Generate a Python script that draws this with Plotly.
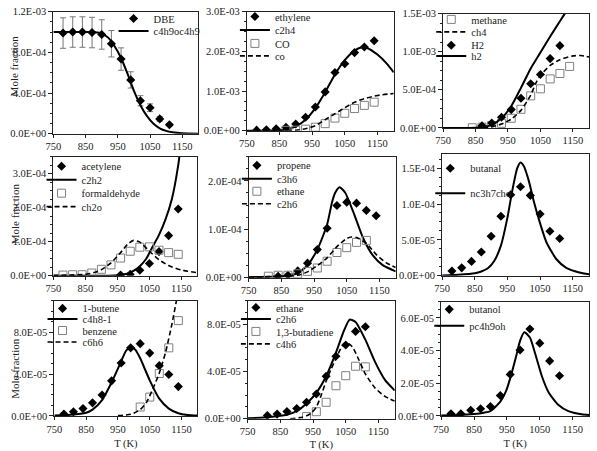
import plotly.graph_objects as go

W, H = 597, 451
FONT = "Liberation Serif"

# ---------------- data ----------------
T_EXP = [780, 810, 840, 870, 900, 930, 960, 990, 1020, 1050, 1080, 1110, 1140]
X_TICKS = [750, 850, 950, 1050, 1150]
X_RANGE = [750, 1200]

# Panel 1: DBE
dbe_T = [780, 810, 840, 870, 900, 930, 960, 990, 1020, 1050, 1080, 1110]
dbe = [9.9e-4, 1.0e-3, 1.0e-3, 9.95e-4, 9.76e-4, 8.85e-4, 7.34e-4, 5.29e-4, 3.24e-4, 2.55e-4, 1.45e-4, 8.8e-5]
dbe_err = [1.5e-4, 1.5e-4, 1.5e-4, 1.5e-4, 1.45e-4, 1.3e-4, 1.1e-4, 8e-5, 5e-5, 3.8e-5, 2.2e-5, 1.3e-5]
c4h9oc4h9_T = [750, 800, 850, 880, 900, 920, 940, 960, 980, 1000, 1020, 1040, 1060, 1080, 1100, 1120, 1150, 1200]
c4h9oc4h9 = [1.0e-3, 1.0e-3, 1.0e-3, 9.97e-4, 9.85e-4, 9.45e-4, 8.6e-4, 7.45e-4, 5.9e-4, 4.2e-4, 2.8e-4, 1.75e-4,
             1.0e-4, 5.3e-5, 2.7e-5, 1.4e-5, 4e-6, 0.0]

# Panel 2: ethylene, CO
ethylene_T = T_EXP
ethylene = [1.6e-5, 2.4e-5, 5e-5, 9e-5, 1.7e-4, 3.4e-4, 6.0e-4, 9.8e-4, 1.47e-3, 1.69e-3, 1.97e-3, 2.11e-3, 2.27e-3]
co_T = [870, 900, 930, 960, 990, 1020, 1050, 1080, 1110, 1140]
co = [1e-5, 1.5e-5, 4e-5, 9e-5, 1.8e-4, 3.2e-4, 4.4e-4, 5.6e-4, 6.4e-4, 7.2e-4]
c2h4_T = [750, 800, 850, 880, 900, 930, 960, 990, 1020, 1050, 1080, 1100, 1120, 1150, 1180, 1200]
c2h4 = [0, 2e-6, 1.2e-5, 5e-5, 1.1e-4, 2.8e-4, 5.7e-4, 9.7e-4, 1.42e-3, 1.78e-3, 2.02e-3, 2.1e-3, 2.08e-3,
        1.92e-3, 1.68e-3, 1.47e-3]
co_m_T = [750, 850, 900, 930, 960, 990, 1020, 1050, 1080, 1110, 1150, 1200]
co_m = [0, 1e-6, 1.5e-5, 5e-5, 1.3e-4, 2.8e-4, 4.3e-4, 5.8e-4, 7.2e-4, 8.1e-4, 8.9e-4, 9.4e-4]

# Panel 3: methane, H2
methane_T = [840, 870, 900, 930, 960, 990, 1020, 1050, 1080, 1110, 1140]
methane = [2e-6, 1e-5, 3e-5, 6e-5, 1.26e-4, 2.44e-4, 4.2e-4, 5.13e-4, 6.43e-4, 7.14e-4, 8.07e-4]
h2_T = [870, 900, 930, 960, 990, 1020, 1050, 1080, 1110]
h2 = [2.9e-5, 6.3e-5, 1.39e-4, 2.4e-4, 3.9e-4, 5.8e-4, 7.0e-4, 9.1e-4, 1.08e-3]
ch4_m_T = [750, 870, 900, 930, 960, 990, 1020, 1035, 1050, 1080, 1110, 1150, 1175, 1200]
ch4_m = [0, 2e-6, 1.5e-5, 5e-5, 1.15e-4, 2.3e-4, 4.3e-4, 5.8e-4, 6.9e-4, 8.2e-4, 8.95e-4, 9.45e-4, 9.5e-4, 9.3e-4]
h2_m_T = [750, 850, 880, 900, 930, 960, 990, 1020, 1050, 1080, 1110, 1140, 1170, 1200]
h2_m = [0, 2e-6, 1.5e-5, 4e-5, 1.26e-4, 2.85e-4, 5.25e-4, 7.8e-4, 9.9e-4, 1.2e-3, 1.4e-3, 1.6e-3, 1.8e-3, 2.0e-3]

# Panel 4: acetylene, formaldehyde
acetylene_T = [960, 990, 1020, 1050, 1080, 1110, 1140]
acetylene = [2e-6, 4e-6, 1.6e-5, 3.6e-5, 7.1e-5, 1.18e-4, 1.96e-4]
formaldehyde_T = T_EXP
formaldehyde = [2e-6, 3e-6, 3e-6, 8e-6, 1.9e-5, 3.2e-5, 5.2e-5, 7.2e-5, 8.4e-5, 8.5e-5, 7.5e-5, 6.8e-5, 6.3e-5]
c2h2_T = [750, 900, 940, 960, 980, 1000, 1020, 1040, 1060, 1080, 1100, 1120, 1140, 1160, 1200]
c2h2 = [0, 0, 1e-6, 2.5e-6, 6e-6, 1.4e-5, 2.8e-5, 5e-5, 8.5e-5, 1.2e-4, 1.65e-4, 2.25e-4, 3.25e-4, 4.8e-4, 8e-4]
ch2o_T = [750, 800, 850, 880, 900, 930, 960, 980, 1000, 1020, 1050, 1080, 1110, 1150, 1200]
ch2o = [1e-6, 2e-6, 4e-6, 1e-5, 1.8e-5, 3.8e-5, 6.8e-5, 9.1e-5, 1.04e-4, 9.9e-5, 7.2e-5, 4.7e-5, 3.0e-5, 1.7e-5, 9e-6]

# Panel 5: propene, ethane
propene_T = [840, 870, 900, 930, 960, 990, 1020, 1050, 1080, 1110, 1140]
propene = [3e-6, 5e-6, 1.4e-5, 3e-5, 5.8e-5, 1.02e-4, 1.49e-4, 1.56e-4, 1.54e-4, 1.39e-4, 1.28e-4]
ethane5_T = [810, 840, 870, 900, 930, 960, 990, 1020, 1050, 1080, 1110]
ethane5 = [3e-6, 5e-6, 5e-6, 8e-6, 1.3e-5, 2e-5, 3.4e-5, 5.2e-5, 6.2e-5, 7.3e-5, 7.7e-5]
c3h6_T = [750, 850, 880, 900, 930, 960, 990, 1005, 1015, 1028, 1045, 1070, 1100, 1130, 1160, 1200]
c3h6 = [1e-6, 3e-6, 6e-6, 9e-6, 2.6e-5, 5.8e-5, 1.1e-4, 1.56e-4, 1.76e-4, 1.87e-4, 1.76e-4, 1.36e-4, 8.2e-5,
        4.6e-5, 2.6e-5, 1.3e-5]
c2h6_5_T = [750, 850, 900, 930, 960, 990, 1020, 1050, 1064, 1080, 1110, 1140, 1170, 1200]
c2h6_5 = [1e-6, 3e-6, 5e-6, 1.2e-5, 2.5e-5, 4.1e-5, 6.4e-5, 8.1e-5, 8.4e-5, 8.3e-5, 7.1e-5, 4.8e-5, 3.1e-5, 2.1e-5]

# Panel 6: butanal
butanal_T = [780, 810, 840, 870, 900, 930, 960, 990, 1020, 1050, 1080, 1110]
butanal = [6.7e-6, 1.1e-5, 2e-5, 3.3e-5, 5.5e-5, 8.3e-5, 1.13e-4, 1.24e-4, 1.12e-4, 8.6e-5, 6.2e-5, 5.2e-5]
nc3h7cho_T = [750, 800, 850, 870, 890, 910, 930, 950, 965, 980, 990, 1000, 1015, 1030, 1050, 1070, 1100, 1130,
              1170, 1200]
nc3h7cho = [5e-7, 1.5e-6, 3.5e-6, 6e-6, 1.05e-5, 2.1e-5, 4.2e-5, 8.1e-5, 1.19e-4, 1.5e-4, 1.58e-4, 1.53e-4,
            1.33e-4, 1.05e-4, 7.3e-5, 4.6e-5, 2.3e-5, 1.1e-5, 4.5e-6, 2e-6]

# Panel 7: 1-butene, benzene
butene_T = T_EXP
butene = [1.8e-6, 4e-6, 7e-6, 1.25e-5, 2e-5, 3.35e-5, 5.05e-5, 6.5e-5, 6.9e-5, 6.0e-5, 4.8e-5, 3.95e-5, 2.8e-5]
benzene_T = [1020, 1050, 1080, 1110, 1140]
benzene = [8.5e-6, 1.8e-5, 4.05e-5, 6.5e-5, 9.1e-5]
c4h8_T = [750, 800, 850, 870, 900, 930, 960, 975, 990, 1005, 1020, 1050, 1080, 1110, 1140, 1170, 1200]
c4h8 = [3e-7, 1e-6, 3e-6, 6e-6, 1.5e-5, 3.2e-5, 5.2e-5, 6.2e-5, 6.6e-5, 6.3e-5, 5.5e-5, 3.4e-5, 1.65e-5,
        7e-6, 2.5e-6, 8e-7, 3e-7]
c6h6_T = [950, 990, 1020, 1040, 1060, 1080, 1100, 1120, 1140, 1160]
c6h6 = [3e-7, 1.5e-6, 6e-6, 1.3e-5, 2.6e-5, 4.1e-5, 6.1e-5, 8.8e-5, 1.2e-4, 1.55e-4]

# Panel 8: ethane, 1,3-butadiene
ethane8_T = [810, 840, 870, 900, 930, 960, 990, 1020, 1050, 1080, 1110]
ethane8 = [2.7e-6, 4e-6, 6.2e-6, 8.7e-6, 1.4e-5, 2.1e-5, 3.6e-5, 5.3e-5, 6.25e-5, 7.4e-5, 7.8e-5]
butadiene_T = [930, 960, 990, 1020, 1050, 1080, 1110]
butadiene = [1.9e-6, 6e-6, 1.4e-5, 2.8e-5, 3.65e-5, 4.45e-5, 4.4e-5]
c2h6_8_T = [750, 800, 850, 870, 900, 930, 960, 990, 1020, 1045, 1062, 1080, 1110, 1140, 1170, 1200]
c2h6_8 = [5e-7, 1e-6, 2.5e-6, 3.5e-6, 6.5e-6, 1.3e-5, 2.2e-5, 3.6e-5, 5.6e-5, 7.5e-5, 8.4e-5, 8.2e-5, 6.7e-5,
          4.8e-5, 3.3e-5, 2.4e-5]
c4h6_T = [880, 910, 930, 945, 960, 975, 990, 1005, 1020, 1040, 1054, 1070, 1090, 1110, 1140, 1170, 1200]
c4h6 = [0, 1e-6, 2.5e-6, 5e-6, 1e-5, 2e-5, 3.2e-5, 4.2e-5, 5.1e-5, 6.2e-5, 6.45e-5, 6.1e-5, 5.0e-5, 3.8e-5,
        2.6e-5, 1.9e-5, 1.5e-5]

# Panel 9: butanol
butanol_T = [780, 810, 840, 870, 900, 930, 960, 990, 1020, 1050, 1080, 1110]
butanol = [1.3e-6, 1.3e-6, 3.5e-6, 4.4e-6, 5.8e-6, 1.25e-5, 2.54e-5, 4.04e-5, 5.33e-5, 4.46e-5, 3.37e-5, 2.46e-5]
pc4h9oh_T = [750, 800, 850, 880, 900, 930, 947, 960, 977, 990, 1003, 1020, 1037, 1057, 1077, 1107, 1137, 1177, 1200]
pc4h9oh = [2e-7, 5e-7, 1.2e-6, 2e-6, 3e-6, 8.7e-6, 1.5e-5, 2.3e-5, 3.56e-5, 4.6e-5, 5.13e-5, 4.8e-5, 3.75e-5,
           2.4e-5, 1.44e-5, 6.7e-6, 2.9e-6, 1e-6, 6e-7]

# y tick values per panel
Y_TICKS = [
    [0, 4e-4, 8e-4, 1.2e-3],
    [0, 1e-3, 2e-3, 3e-3],
    [0, 5e-4, 1e-3, 1.5e-3],
    [0, 1e-4, 2e-4, 3e-4],
    [0, 1e-4, 2e-4],
    [0, 5e-5, 1e-4, 1.5e-4],
    [0, 4e-5, 8e-5],
    [0, 4e-5, 8e-5],
    [0, 2e-5, 4e-5, 6e-5],
]
Y_MAX = [1.2e-3, 3e-3, 1.5e-3, 3.5e-4, 2.5e-4, 1.7e-4, 1.1e-4, 1.0e-4, 7e-5]

# ---------------- layout specs ----------------
panels = [
    dict(box=(46, 193, 7, 134), minor=1e-4, leg_x=147, leg_y=[15, 28],
         traces=[("DBE", dbe_T, dbe, "diamond", dbe_err), ("c4h9oc4h9", c4h9oc4h9_T, c4h9oc4h9, "solid", None)]),
    dict(box=(242, 391, 7, 131), minor=2.5e-4, leg_x=268, leg_y=[13, 27, 41, 54],
         traces=[("ethylene", ethylene_T, ethylene, "diamond", None), ("c2h4", c2h4_T, c2h4, "solid", None),
                 ("CO", co_T, co, "square", None), ("co", co_m_T, co_m, "dash", None)]),
    dict(box=(441, 589, 9, 128), minor=1.25e-4, leg_x=463, leg_y=[16, 29, 43, 54],
         traces=[("methane", methane_T, methane, "square", None), ("ch4", ch4_m_T, ch4_m, "dash", None),
                 ("H2", h2_T, h2, "diamond", None), ("h2", h2_m_T, h2_m, "solid", None)]),
    dict(box=(46, 192, 158, 282), minor=2.5e-5, leg_x=72, leg_y=[169, 183, 197, 211],
         traces=[("acetylene", acetylene_T, acetylene, "diamond", None), ("c2h2", c2h2_T, c2h2, "solid", None),
                 ("formaldehyde", formaldehyde_T, formaldehyde, "square", None), ("ch2o", ch2o_T, ch2o, "dash", None)]),
    dict(box=(244, 393, 158, 284), minor=2.5e-5, leg_x=270, leg_y=[168, 182, 195, 208],
         traces=[("propene", propene_T, propene, "diamond", None), ("c3h6", c3h6_T, c3h6, "solid", None),
                 ("ethane", ethane5_T, ethane5, "square", None), ("c2h6", c2h6_5_T, c2h6_5, "dash", None)]),
    dict(box=(440, 589, 155, 282), minor=1.25e-5, leg_x=463, leg_y=[171, 197],
         traces=[("butanal", butanal_T, butanal, "diamond", None),
                 ("nc3h7cho", nc3h7cho_T, nc3h7cho, "solid", None)]),
    dict(box=(47, 192, 308, 428), minor=1e-5, leg_x=63, leg_y=[317, 328, 340, 352],
         traces=[("1-butene", butene_T, butene, "diamond", None), ("c4h8-1", c4h8_T, c4h8, "solid", None),
                 ("benzene", benzene_T, benzene, "square", None), ("c6h6", c6h6_T, c6h6, "dash", None)]),
    dict(box=(243, 392, 308, 431), minor=1e-5, leg_x=268, leg_y=[316, 328, 341, 354],
         traces=[("ethane", ethane8_T, ethane8, "diamond", None), ("c2h6", c2h6_8_T, c2h6_8, "solid", None),
                 ("1,3-butadiene", butadiene_T, butadiene, "square", None), ("c4h6", c4h6_T, c4h6, "dash", None)]),
    dict(box=(439, 589, 309, 428), minor=5e-6, leg_x=464, leg_y=[318, 335],
         traces=[("butanol", butanol_T, butanol, "diamond", None),
                 ("pc4h9oh", pc4h9oh_T, pc4h9oh, "solid", None)]),
]


def fmt(v):
    return f"{v:.1E}"


fig = go.Figure()
layout = dict(
    width=W, height=H, margin=dict(l=0, r=0, t=0, b=0),
    paper_bgcolor="white", plot_bgcolor="white", showlegend=True,
    font=dict(family=FONT, size=10.5, color="black"),
)
tickfont = dict(family=FONT, size=10.5, color="#222")
legfont = dict(family=FONT, size=10.5, color="#222")

leg_idx = 0
for i, p in enumerate(panels, start=1):
    sfx = "" if i == 1 else str(i)
    l, r, t, b = p["box"]
    xd = [l / W, r / W]
    yd = [1 - b / H, 1 - t / H]
    xax = dict(domain=xd, range=X_RANGE, tickmode="array", tickvals=X_TICKS,
               ticktext=[str(v) for v in X_TICKS], anchor="y" + sfx,
               showline=True, linecolor="#222", linewidth=1, mirror=True,
               ticks="outside", ticklen=3, tickcolor="#222", tickfont=tickfont,
               showgrid=False, zeroline=False)
    if i >= 7:
        xax["title"] = dict(text="T (K)", font=dict(family=FONT, size=10.5, color="#222"), standoff=6)
    yax = dict(domain=yd, range=[0, Y_MAX[i - 1]], tickmode="array", tickvals=Y_TICKS[i - 1],
               ticktext=[fmt(v) for v in Y_TICKS[i - 1]], anchor="x" + sfx,
               showline=True, linecolor="#222", linewidth=1, mirror=True,
               ticks="outside", ticklen=4, tickcolor="#222", tickfont=tickfont,
               showgrid=False, zeroline=False,
               minor=dict(tickmode="linear", tick0=0, dtick=p["minor"], ticks="outside", ticklen=2,
                          tickcolor="#222", showgrid=False))
    layout["xaxis" + sfx] = xax
    layout["yaxis" + sfx] = yax

    leg_left = max(p["leg_x"] - 40, l - 12)
    for j, (name, xs, ys, kind, err) in enumerate(p["traces"]):
        leg_idx += 1
        lname = "legend" if leg_idx == 1 else f"legend{leg_idx}"
        kw = dict(x=xs, y=ys, name=name, xaxis="x" + sfx, yaxis="y" + sfx, legend=lname, cliponaxis=True)
        if kind == "diamond":
            kw.update(mode="markers", marker=dict(symbol="diamond", size=7, color="black"))
        elif kind == "square":
            kw.update(mode="markers", marker=dict(symbol="square-open", size=8, color="#808080",
                                                  line=dict(width=1, color="#808080")))
        elif kind == "solid":
            kw.update(mode="lines", line=dict(color="black", width=2, shape="spline", smoothing=0.6))
        else:
            kw.update(mode="lines", line=dict(color="black", width=1.6, dash="5px,3px", shape="spline",
                                              smoothing=0.6))
        if err is not None:
            kw["error_y"] = dict(type="data", array=err, visible=True, color="#777", thickness=1, width=3)
        fig.add_trace(go.Scatter(**kw))
        layout[lname] = dict(x=leg_left / W, y=1 - (p["leg_y"][j] - 1) / H, xref="paper", yref="paper",
                             xanchor="left", yanchor="middle", bgcolor="rgba(0,0,0,0)", borderwidth=0,
                             font=legfont, itemwidth=30, tracegroupgap=0)

annotations = []
for yc in [63, 217, 378]:
    annotations.append(dict(text="Mole fraction", x=7 / W, y=1 - yc / H, xref="paper", yref="paper",
                            showarrow=False, textangle=-90, xanchor="center", yanchor="middle",
                            font=dict(family=FONT, size=11, color="#222")))
layout["annotations"] = annotations

fig.update_layout(**layout)
fig.write_html("out.html")
